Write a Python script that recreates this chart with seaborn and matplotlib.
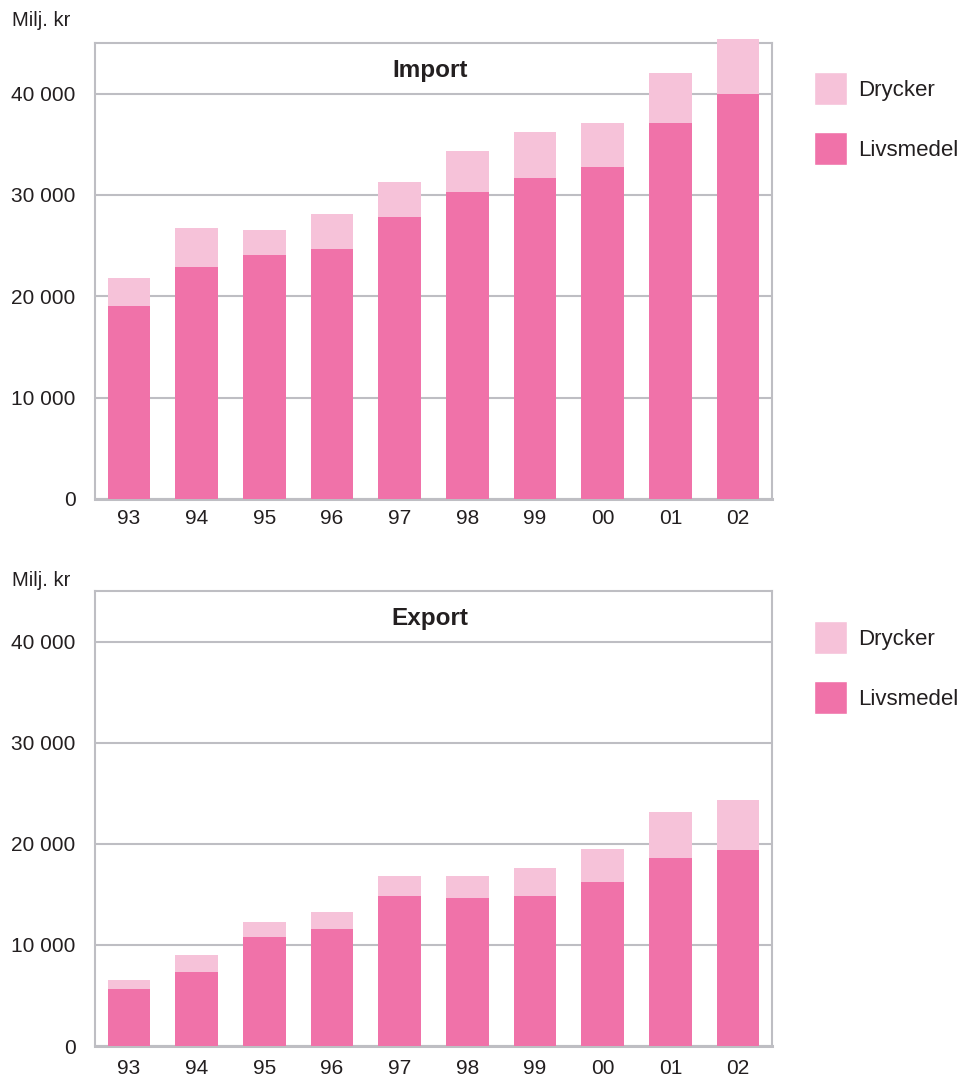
import matplotlib
matplotlib.use("Agg")
import matplotlib.pyplot as plt
import seaborn as sns
from matplotlib.patches import Patch

# Data (miljoner kronor)
years = ["93", "94", "95", "96", "97", "98", "99", "00", "01", "02"]
import_livsmedel = [19000, 22900, 24100, 24700, 27800, 30300, 31700, 32800, 37100, 40000]
import_drycker = [2800, 3800, 2400, 3400, 3500, 4000, 4500, 4300, 4900, 5400]
export_livsmedel = [5600, 7300, 10800, 11600, 14800, 14600, 14800, 16200, 18600, 19400]
export_drycker = [900, 1700, 1500, 1700, 2000, 2200, 2800, 3300, 4500, 4900]

yticks = [0, 10000, 20000, 30000, 40000]
liv_color = "#F072A9"
dry_color = "#F6C2D9"
grid_color = "#BEBEC3"
text_color = "#231f20"

sns.set_theme(style="white")
plt.rcParams["font.family"] = ["Liberation Sans", "DejaVu Sans"]

fig = plt.figure(figsize=(9.6, 10.81), dpi=100)
W, H = 960, 1081


def panel(top_px, bottom_px, title, livsmedel, drycker, leg_top_px, label_px, xpad):
    ax = fig.add_axes([95 / W, 1 - bottom_px / H, 677 / W, (bottom_px - top_px) / H])
    totals = [a + b for a, b in zip(livsmedel, drycker)]
    sns.barplot(x=years, y=totals, order=years, color=dry_color, saturation=1,
                width=0.63, ax=ax, clip_on=False, zorder=3, linewidth=0)
    sns.barplot(x=years, y=livsmedel, order=years, color=liv_color, saturation=1,
                width=0.63, ax=ax, clip_on=False, zorder=3, linewidth=0)
    ax.set_ylim(0, 45000)
    ax.set_xlim(-0.5, len(years) - 0.5)
    ax.set_yticks(yticks)
    ax.set_yticklabels([f"{v:,}".replace(",", " ") for v in yticks])
    ax.set_xlabel("")
    ax.set_ylabel("")
    ax.yaxis.grid(True, color=grid_color, linewidth=1.5)
    ax.set_axisbelow(True)
    for s in ax.spines.values():
        s.set_color(grid_color)
        s.set_linewidth(1.5)
    ax.spines["bottom"].set_linewidth(2.2)
    ax.tick_params(axis="y", length=0, pad=14, labelsize=15, colors=text_color)
    ax.tick_params(axis="x", length=0, pad=xpad, labelsize=15, colors=text_color)
    ax.text(0.495, 0.94, title, transform=ax.transAxes, ha="center", va="center",
            fontsize=17.5, fontweight="bold", color=text_color)
    fig.text(12 / W, 1 - label_px / H, "Milj. kr", ha="left", va="center",
             fontsize=14.5, color=text_color)
    handles = [Patch(facecolor=dry_color, label="Drycker"),
               Patch(facecolor=liv_color, label="Livsmedel")]
    fig.legend(handles=handles, loc="upper left",
               bbox_to_anchor=(814 / W, 1 - leg_top_px / H),
               bbox_transform=fig.transFigure, frameon=False, borderpad=0,
               borderaxespad=0, fontsize=16, handlelength=1.49, handleheight=1.91,
               handletextpad=0.5, labelspacing=1.23, labelcolor=text_color)
    return ax


panel(43, 499, "Import", import_livsmedel, import_drycker, 72, 20, 7)
panel(591, 1046, "Export", export_livsmedel, export_drycker, 621, 580, 9)

fig.savefig("out.png", dpi=100)
